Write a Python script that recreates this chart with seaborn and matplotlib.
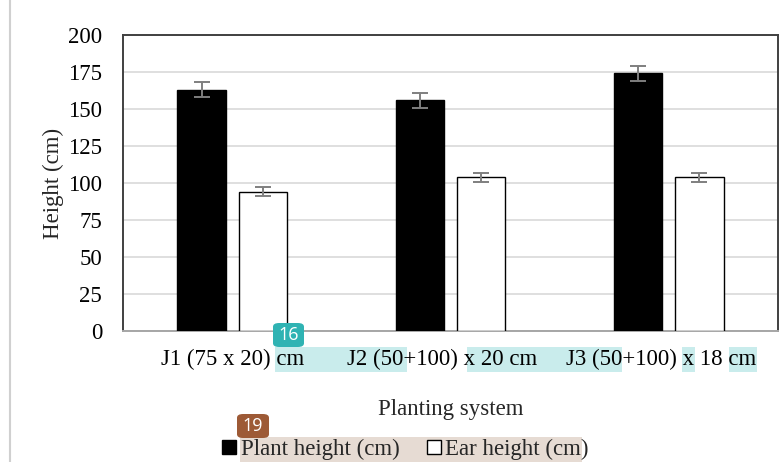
import matplotlib
matplotlib.use("Agg")
import matplotlib.pyplot as plt
import seaborn as sns
import pandas as pd
from matplotlib.patches import Rectangle, FancyBboxPatch
from matplotlib.lines import Line2D
from matplotlib.transforms import ScaledTranslation

systems = ["J1 (75 x 20) cm", "J2 (50+100) x 20 cm", "J3 (50+100) x 18 cm"]
traits = ["Plant height (cm)", "Ear height (cm)"]
plant_height = [163, 156, 174]
plant_err = [5, 5, 5]
ear_height = [94, 104, 104]
ear_err = [3, 3, 3]
y_ticks = [0, 25, 50, 75, 100, 125, 150, 175, 200]

df = pd.DataFrame({
    "system": systems * 2,
    "trait": [traits[0]] * 3 + [traits[1]] * 3,
    "value": plant_height + ear_height,
})
errs = {traits[0]: plant_err, traits[1]: ear_err}

sns.set_theme(style="white")
plt.rcParams["font.family"] = ["Liberation Serif", "DejaVu Serif"]

W, H = 779, 462
FS = 16.5
fig = plt.figure(figsize=(W / 100, H / 100), dpi=100)
ax = fig.add_axes([123 / W, 1 - 331 / H, (778 - 123) / W, (331 - 35) / H])

sns.barplot(data=df, x="system", y="value", hue="trait", order=systems,
            hue_order=traits, palette=["black", "white"], width=0.56, gap=0.21,
            edgecolor="black", linewidth=1.0, errorbar=None, legend=False,
            saturation=1, ax=ax, zorder=3)

for cont, tr in zip(ax.containers, traits):
    xs = [b.get_x() + b.get_width() / 2 for b in cont]
    hs = [b.get_height() for b in cont]
    ax.errorbar(xs, hs, yerr=errs[tr], fmt="none", ecolor="#7f7f7f",
                elinewidth=1.4, capsize=6, capthick=1.4, zorder=4)

ax.set_ylim(0, 200)
ax.set_xlim(-0.5, 2.5)
ax.set_yticks(y_ticks)
ax.set_yticklabels([str(v) for v in y_ticks])
ax.yaxis.grid(True, color="#d9d9d9", linewidth=1.2, zorder=0)
ax.set_axisbelow(True)
ax.tick_params(axis="both", length=0, labelsize=FS, colors="black")
ax.tick_params(axis="y", pad=15)
ax.tick_params(axis="x", pad=13)
ax.set_ylabel("Height (cm)", fontsize=FS, labelpad=3)
ax.set_xlabel("Planting system", fontsize=FS, labelpad=21)
for s in ["left", "right", "top"]:
    ax.spines[s].set_color("#404040")
    ax.spines[s].set_linewidth(1.4)
ax.spines["bottom"].set_color("#a6a6a6")
ax.spines["bottom"].set_linewidth(1.4)

# the reference's J2 / J3 labels sit slightly left of their category centres
for lab in ax.get_xticklabels()[1:]:
    lab.set_transform(lab.get_transform() +
                      ScaledTranslation(-8 / 100, 0, fig.dpi_scale_trans))


def fx(x):
    return x / W


def fy(y):
    return 1 - y / H


# outer chart-area border line on the left
fig.add_artist(Line2D([fx(10), fx(10)], [0, 1], color="#d0d0d0", linewidth=1.5,
                      transform=fig.transFigure, zorder=-1))

# text highlight bands
teal_hl = "#c9ecec"
for x0, x1 in [(275, 407), (467, 622), (682, 695), (729, 757)]:
    fig.add_artist(Rectangle((fx(x0), fy(372)), fx(x1 - x0), (372 - 347) / H,
                             transform=fig.transFigure, facecolor=teal_hl,
                             edgecolor="none", zorder=-1))
fig.add_artist(Rectangle((fx(240), fy(462)), fx(582 - 240), (462 - 437) / H,
                         transform=fig.transFigure, facecolor="#e6dbd3",
                         edgecolor="none", zorder=-1))

# badges
for (x0, x1, y0, y1, col, lab) in [(273, 304, 323, 347, "#2fb3b3", "16"),
                                   (237, 269, 414, 438, "#9d5a36", "19")]:
    fig.add_artist(FancyBboxPatch((fx(x0), fy(y1)), fx(x1 - x0), (y1 - y0) / H,
                                  boxstyle="round,pad=0,rounding_size=0.008",
                                  transform=fig.transFigure, facecolor=col,
                                  edgecolor="none", zorder=10))
    fig.text(fx((x0 + x1) / 2), fy((y0 + y1) / 2), lab, color="white",
             fontsize=13, family=["Open Sans", "DejaVu Sans"], ha="center",
             va="center", zorder=11)

handles = [Line2D([], [], marker="s", linestyle="none", markersize=10,
                  markerfacecolor=c, markeredgecolor="black", markeredgewidth=1)
           for c in ["black", "white"]]
fig.legend(handles, traits, loc="center", bbox_to_anchor=(fx(405), fy(449)),
           ncol=2, frameon=False, fontsize=FS, handlelength=0.7,
           handletextpad=0.15, columnspacing=1.15, borderaxespad=0)

fig.savefig("out.png", dpi=100)
